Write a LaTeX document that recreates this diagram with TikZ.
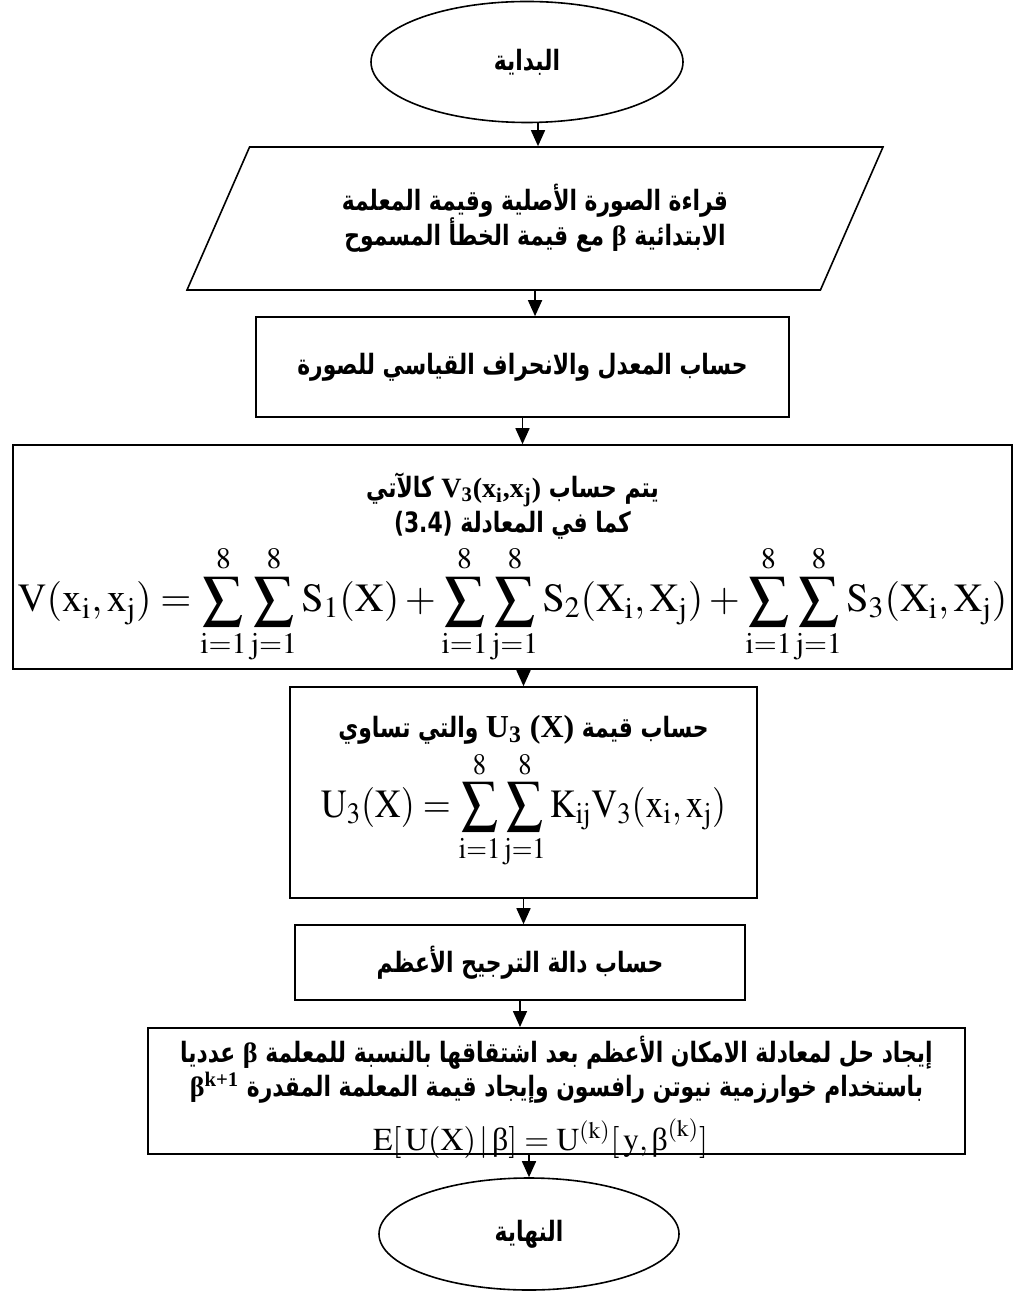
\documentclass[tikz,border=0pt]{standalone}
\usepackage{amsmath}
\usepackage{graphicx}
\usepackage{mathptmx}
\usepackage{fontspec}
\setmainfont{Liberation Serif}
\newfontfamily\arabicfont[Script=Arabic, FakeStretch=0.78]{DejaVu Sans}
\newfontfamily\latinfont{Liberation Serif}
\TeXXeTstate=1
\newcommand{\betaup}{\text{\normalfont β}}
\usetikzlibrary{arrows.meta,positioning,shapes.geometric}

\begin{document}
\begin{tikzpicture}[x=0.5pt, y=0.5pt,
  every node/.style={font=\arabicfont\bfseries\fontsize{14}{17.5}\selectfont},
  terminal/.style={draw, line width=0.8pt, ellipse, inner sep=0pt},
  inbox/.style={draw, line width=0.8pt, trapezium, trapezium left angle=47.5,
                trapezium right angle=132.5, trapezium stretches body=true,
                align=center, inner sep=0pt},
  procbox/.style={draw, line width=0.8pt, rectangle, align=center, inner sep=2pt},
  arr/.style={-{Triangle[length=8pt, width=7pt]}, line width=0.8pt}
]
  \useasboundingbox (0,0) rectangle (1019,-1293);

  \node[terminal, minimum width=156pt, minimum height=60.5pt] (start) at (527,-62)
    {\beginR البداية\endR};

  \node[inbox, minimum width=348pt, minimum height=71.5pt] (input) at (535,-218.5)
    {\beginR قراءة الصورة الأصلية وقيمة المعلمة\endR\\
     \beginR الابتدائية {\latinfont\bfseries β} مع قيمة الخطأ المسموح\endR};

  \node[procbox, minimum width=266.5pt, minimum height=50pt] (stats) at (522.5,-367)
    {\beginR حساب المعدل والانحراف القياسي للصورة\endR};

  \node[procbox, minimum width=499.5pt, minimum height=112pt] (vfun) at (512.5,-557)
    {\mbox{}\\[6pt]
     \beginR يتم حساب \beginL{\latinfont\bfseries V\textsubscript{3}(x\textsubscript{i},x\textsubscript{j})}\endL{} كالآتي\endR\\[0pt]
     \beginR كما في المعادلة \beginL(3.4)\endL\endR\\[2pt]
     {\fontsize{20}{24}\selectfont$\displaystyle\mathrm{V(x_i,x_j)=\sum_{i=1}^{8}\sum_{j=1}^{8}S_1(X)
       +\sum_{i=1}^{8}\sum_{j=1}^{8}S_2(X_i,X_j)+\sum_{i=1}^{8}\sum_{j=1}^{8}S_3(X_i,X_j)}$}};

  \node[procbox, minimum width=233.5pt, minimum height=105.5pt] (ufun) at (523.5,-792.5)
    {\beginR حساب قيمة \beginL{\latinfont\bfseries\fontsize{16}{17.5}\selectfont U\textsubscript{3} (X)}\endL{} والتي تساوي\endR\\[2pt]
     {\fontsize{20}{24}\selectfont\scalebox{0.9}[1]{$\displaystyle\mathrm{U_3(X)=\sum_{i=1}^{8}\sum_{j=1}^{8}K_{ij}V_3(x_i,x_j)}$}}};

  \node[procbox, minimum width=225pt, minimum height=37.5pt] (like) at (520,-962.5)
    {\beginR حساب دالة الترجيح الأعظم\endR};

  \node[procbox, minimum width=408.5pt, text depth=0pt, font=\arabicfont\bfseries\fontsize{14}{15}\selectfont,
        anchor=north] (solve) at (556.5,-1027)
    {\rule{0pt}{15.5pt}\beginR إيجاد حل لمعادلة الامكان الأعظم بعد اشتقاقها بالنسبة للمعلمة {\latinfont\bfseries β} عدديا\endR\\
     \beginR باستخدام خوارزمية نيوتن رافسون وإيجاد قيمة المعلمة المقدرة \beginL{\latinfont\bfseries β\textsuperscript{k+1}}\endL\endR\\[7pt]
     {\fontsize{16}{18}\selectfont$\mathrm{E[\,U(X)\,|\,\betaup]=U^{(k)}[\,y,\betaup^{(k)}]}$}\hspace*{16pt}};

  \node[terminal, minimum width=150pt, minimum height=56pt] (stop) at (529,-1234)
    {\beginR النهاية\endR};

  \draw[arr] (start.south) ++(5.5pt,0) coordinate (s0) -- (s0 |- input.north);
  \draw[arr] (input.south) -- (input.south |- stats.north);
  \draw[arr] (stats.south) -- (stats.south |- vfun.north);
  \draw[arr] (vfun.south -| ufun.north) -- (ufun.north);
  \draw[arr] (ufun.south) -- (ufun.south |- like.north);
  \draw[arr] (like.south) -- (like.south |- solve.north);
  \draw[arr] (solve.south -| stop.north) -- (stop.north);
\end{tikzpicture}
\end{document}
